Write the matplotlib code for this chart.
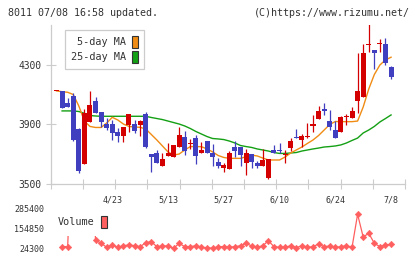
import matplotlib
matplotlib.use("Agg")
import matplotlib.pyplot as plt
import numpy as np
from matplotlib.patches import Patch

# daily candles, oldest first
opens = [4125, 4125, 4045, 4092, 3869, 3636, 3918, 4057, 3985, 3902,
         3902, 3851, 3822, 3896, 3902, 3896, 3969, 3701, 3706, 3621,
         3688, 3683, 3746, 3815, 3766, 3806, 3710, 3788, 3710, 3646,
         3609, 3603, 3746, 3746, 3643, 3701, 3639, 3621, 3542, 3728,
         3728, 3696, 3743, 3817, 3795, 3815, 3891, 3936, 4001, 3922,
         3862, 3847, 3948, 3945, 4057, 4085, 4432, 4399, 4439, 4439, 4283]
highs = [4125, 4125, 4077, 4108, 3878, 4001, 4124, 4083, 3985, 3943,
         3929, 3876, 3884, 3969, 3929, 3929, 3985, 3701, 3728, 3706,
         3773, 3760, 3880, 3855, 3800, 3829, 3782, 3788, 3768, 3672,
         3639, 3723, 3788, 3746, 3733, 3701, 3654, 3733, 3666, 3762,
         3773, 3728, 3810, 3867, 3835, 3911, 3963, 4023, 4045, 3996,
         3922, 3958, 3967, 4018, 4381, 4437, 4580, 4399, 4472, 4481, 4293]
lows = [4125, 4010, 4018, 3788, 3576, 3636, 3918, 3974, 3884, 3859,
        3795, 3784, 3784, 3851, 3844, 3822, 3739, 3583, 3639, 3621,
        3688, 3683, 3746, 3694, 3733, 3632, 3710, 3706, 3621, 3605,
        3583, 3603, 3683, 3621, 3562, 3605, 3609, 3621, 3536, 3706,
        3706, 3643, 3721, 3806, 3746, 3806, 3851, 3936, 3963, 3860,
        3806, 3847, 3896, 3945, 3978, 4085, 4387, 4269, 4383, 4298, 4204]
closes = [4125, 4012, 4018, 3795, 3589, 3978, 4030, 3974, 3918, 3878,
          3844, 3824, 3884, 3969, 3857, 3924, 3746, 3679, 3639, 3668,
          3706, 3760, 3829, 3723, 3770, 3690, 3728, 3706, 3683, 3621,
          3625, 3706, 3723, 3694, 3706, 3646, 3621, 3661, 3666, 3706,
          3723, 3701, 3788, 3810, 3822, 3822, 3902, 3992, 3992, 3884,
          3806, 3951, 3953, 3990, 4124, 4381, 4437, 4376, 4443, 4313, 4216]

ma5 = [4124, 4119, 4115, 4100, 4023, 3922, 3886, 3879, 3879, 3909,
       3947, 3929, 3902, 3886, 3882, 3880, 3869, 3832, 3795, 3755,
       3715, 3694, 3701, 3728, 3751, 3751, 3750, 3735, 3715, 3691,
       3678, 3672, 3672, 3672, 3683, 3694, 3688, 3674, 3661, 3661,
       3661, 3681, 3708, 3728, 3748, 3772, 3795, 3825, 3862, 3899,
       3919, 3918, 3918, 3918, 3922, 4016, 4137, 4234, 4298, 4332, 4350]
ma25 = [np.nan, 3990, 3990, 3990, 3986, 3974, 3959, 3956, 3954, 3954,
        3954, 3954, 3954, 3954, 3954, 3954, 3954, 3946, 3939, 3932,
        3922, 3912, 3902, 3889, 3872, 3852, 3835, 3818, 3805, 3802,
        3798, 3788, 3775, 3758, 3751, 3745, 3735, 3728, 3721, 3711,
        3705, 3705, 3708, 3711, 3721, 3728, 3735, 3741, 3748, 3751,
        3755, 3762, 3775, 3792, 3808, 3842, 3862, 3886, 3916, 3939, 3963]

# volume; days 3-6 ran far above the panel
volume = [np.nan, 40000, 39000, 900000, 900000, 900000, 900000, 83000, 61500, 35400,
          50400, 35400, 45800, 50400, 45800, 39300, 65400, 72000, 39300, 43900,
          43900, 28900, 61500, 39300, 39300, 45800, 35400, 32800, 28900, 39300,
          39300, 35100, 39300, 45800, 61500, 43900, 35100, 45800, 78500, 39300,
          35100, 35100, 45800, 32800, 45800, 35100, 39300, 57000, 39300, 43900,
          35100, 39300, 45800, 35100, 250800, 102600, 126800, 61500, 39300, 50400, 55000]

date_idx = [10, 20, 30, 40, 50, 60]
date_labels = ["4/23", "5/13", "5/27", "6/10", "6/24", "7/8"]
price_ticks = [3500, 3900, 4300]
vol_ticks = [24300, 154850, 285400]

RED = "#d40000"
BLUE = "#3f3fbf"
ORANGE = "#f08c14"
GREEN = "#14a014"
VOLC = "#ff5f5f"
GRID = "#cccccc"
TXT = "#333333"
MONO = "DejaVu Sans Mono"

x = np.arange(len(closes))
o = np.array(opens, float)
c = np.array(closes, float)
h = np.array(highs, float)
l = np.array(lows, float)
up = c >= o
cols = np.where(up, RED, BLUE)

fig = plt.figure(figsize=(4.2, 2.59), dpi=100)
W, H = 420, 259
ax = fig.add_axes([50.7 / W, 75 / H, 354.3 / W, 159 / H])
axv = fig.add_axes([50.7 / W, 6 / H, 354.3 / W, 45 / H])
xlim = (-1.04, 62.5)

# moving averages under the candles
ax.plot(x, ma25, color=GREEN, lw=1.0, zorder=1)
ax.plot(x, ma5, color=ORANGE, lw=1.0, zorder=1)

ax.vlines(x, l, h, colors=cols, lw=0.9, zorder=2)
body = np.maximum(np.abs(c - o), 7)
ax.bar(x, body, bottom=np.minimum(o, c), width=0.9, color=cols, lw=0, zorder=3)

ax.set_xlim(*xlim)
ax.set_ylim(3500, 4566)
for s in ["top", "right"]:
    ax.spines[s].set_visible(False)
for s in ["left", "bottom"]:
    ax.spines[s].set_color(GRID)
    ax.spines[s].set_linewidth(0.9)

ax.set_yticks(price_ticks)
ax.set_yticklabels([str(v) for v in price_ticks], fontsize=6.9, family=MONO, color=TXT)
ax.tick_params(axis="y", direction="inout", length=7, width=0.8, color=GRID, pad=3)
ax.set_xticks(date_idx)
ax.set_xticklabels(date_labels, fontsize=6, family=MONO, color=TXT)
ax.set_xticks(np.linspace(xlim[0], xlim[1], 12), minor=True)
ax.tick_params(axis="x", which="major", length=0, pad=8)
ax.tick_params(axis="x", which="minor", direction="inout", length=6.5, width=0.8, color=GRID)

leg = ax.legend(handles=[Patch(facecolor=ORANGE, edgecolor="#333333", lw=0.8),
                         Patch(facecolor=GREEN, edgecolor="#333333", lw=0.8)],
                labels=["5-day MA", "25-day MA"], loc="upper left",
                bbox_to_anchor=((65 - 50.7) / 354.3, (184 - 30) / 159),
                borderaxespad=0, markerfirst=False, fancybox=False,
                handlelength=0.6, handleheight=1.45, handletextpad=0.6,
                labelspacing=0.25, borderpad=0.6,
                prop={"family": MONO, "size": 7.3})
leg.get_frame().set_edgecolor(GRID)
leg.get_frame().set_linewidth(0.9)
leg.get_frame().set_alpha(1)
for t in leg.get_texts():
    t.set_color(TXT)

# volume panel
axv.plot(x, volume, color=VOLC, lw=0.9, marker="D", ms=3.3, mew=0.4, mec=VOLC, zorder=2)
axv.set_xlim(*xlim)
vpx = (vol_ticks[2] - vol_ticks[0]) / 40.0
axv.set_ylim(vol_ticks[0] - 4 * vpx, vol_ticks[2] + 1 * vpx)
for s in axv.spines.values():
    s.set_visible(False)
axv.set_xticks([])
axv.set_yticks(vol_ticks)
axv.set_yticklabels([str(v) for v in vol_ticks], fontsize=6, family=MONO, color=TXT)
axv.tick_params(axis="y", length=0, pad=4.8)

vleg = axv.legend(handles=[Patch(facecolor=VOLC, edgecolor="#333333", lw=0.8)],
                  labels=["Volume"], loc="upper left",
                  bbox_to_anchor=((50 - 50.7) / 354.3, 1.0),
                  borderaxespad=0, markerfirst=False, fancybox=False,
                  handlelength=0.6, handleheight=1.45, handletextpad=0.6,
                  borderpad=0.78, prop={"family": MONO, "size": 7.3})
vleg.get_frame().set_edgecolor("none")
vleg.get_frame().set_facecolor("white")
vleg.get_frame().set_alpha(1)
for t in vleg.get_texts():
    t.set_color(TXT)

fig.text(8 / W, 1 - 13 / H, "8011 07/08 16:58 updated.", ha="left", va="center",
         fontsize=7.2, family=MONO, color=TXT)
fig.text(410 / W, 1 - 13 / H, "(C)https://www.rizumu.net/", ha="right", va="center",
         fontsize=7.2, family=MONO, color=TXT)

fig.savefig("out.png", dpi=100)
